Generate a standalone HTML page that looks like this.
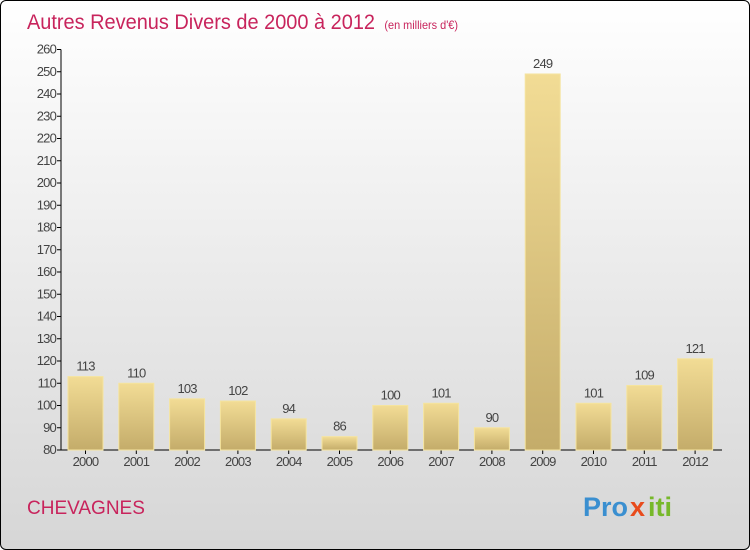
<!DOCTYPE html>
<html><head><meta charset="utf-8"><style>
html,body{margin:0;padding:0;}
body{width:750px;height:550px;overflow:hidden;font-family:"Liberation Sans",sans-serif;}
#frame{position:absolute;left:0;top:0;width:748px;height:548px;border:1px solid #000;border-radius:6px;background:linear-gradient(#ffffff,#d6d6d6);overflow:hidden;}
</style></head><body>
<div id="frame">
<svg id="chart" width="750" height="550" style="position:absolute;left:-1px;top:-1px">
<defs>
<linearGradient id="bg" x1="0" y1="0" x2="0" y2="1"><stop offset="0" stop-color="#f2dc95"/><stop offset="1" stop-color="#c4ac6a"/></linearGradient>
</defs>
<text x="27" y="29" font-size="21" fill="#c8245c" transform="translate(27,0) scale(0.95,1) translate(-27,0)">Autres Revenus Divers de 2000 à 2012 <tspan font-size="11.5" dx="4">(en milliers d'€)</tspan></text>
<text x="27" y="514" font-size="19" fill="#c8245c">CHEVAGNES</text>
<g font-size="27" font-weight="bold">
<text x="583" y="516" fill="#3a8fd0">Pro</text><text x="630" y="516" fill="#e84b1c">x</text><text x="648" y="516" fill="#77b82a">iti</text>
</g>
<g id="axes"></g>
<g id="bars"></g>
</svg>
</div>
<script>
const categories=["2000","2001","2002","2003","2004","2005","2006","2007","2008","2009","2010","2011","2012"];
const values=[113,110,103,102,94,86,100,101,90,249,101,109,121];
const yTicks=[80,90,100,110,120,130,140,150,160,170,180,190,200,210,220,230,240,250,260];
const NS="http://www.w3.org/2000/svg";
const yMin=80,yMax=260,y0=450,y1=49.5;
function yScale(v){return y0-(v-yMin)/(yMax-yMin)*(y0-y1);}
const xStart=85.5,step=50.8,bw=35;
function xScale(i){return xStart+i*step;}
function mk(tag,attrs,parent){const e=document.createElementNS(NS,tag);for(const k in attrs)e.setAttribute(k,attrs[k]);parent.appendChild(e);return e;}
const axes=document.getElementById('axes'),bars=document.getElementById('bars');
const ya=mk('line',{x1:61,x2:61,y1:y1,y2:y0,stroke:'#000','stroke-width':1},axes);


const xa=mk('line',{x1:61,x2:722,y1:y0,y2:y0,stroke:'#000','stroke-width':1},axes);


yTicks.forEach(t=>{const y=yScale(t);
mk('line',{x1:57,x2:61,y1:y,y2:y,stroke:'#000'},axes);
const tx=mk('text',{x:56,y:y+4,'font-size':13,fill:'#444','text-anchor':'end','letter-spacing':'-0.8'},axes);tx.textContent=t;

});
categories.forEach((c,i)=>{const cx=xScale(i),v=values[i],y=yScale(v);
const r=mk('rect',{x:cx-bw/2,y:y,width:bw,height:y0-y,fill:'url(#bg)',stroke:'#f5e49f','stroke-width':1},bars);


const vl=mk('text',{x:cx,y:y-6,'font-size':13,fill:'#444','text-anchor':'middle','letter-spacing':'-0.8'},bars);vl.textContent=v;


mk('line',{x1:cx,x2:cx,y1:y0,y2:y0+4,stroke:'#000'},axes);
const xl=mk('text',{x:cx,y:466,'font-size':13,fill:'#444','text-anchor':'middle','letter-spacing':'-0.8'},axes);xl.textContent=c;

});
</script>
</body></html>
